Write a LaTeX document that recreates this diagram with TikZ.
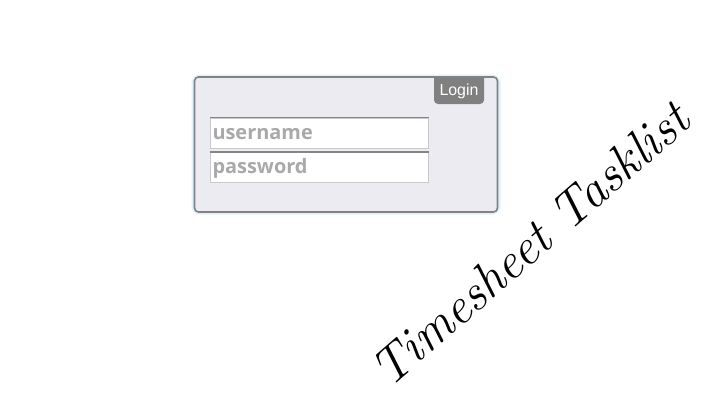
\documentclass[tikz,border=0pt]{standalone}
\usepackage{fontspec}
\newfontfamily\uifont{Open Sans}
\newfontfamily\btnfont{Liberation Sans}
\definecolor{boxfill}{HTML}{ECEBF1}
\definecolor{boxline}{HTML}{808284}
\definecolor{glow}{HTML}{DDF2FA}
\definecolor{btn}{HTML}{808080}
\definecolor{ph}{HTML}{A9A9A9}
\definecolor{fieldline}{HTML}{C9C9CC}
\definecolor{fieldtop}{HTML}{858585}
\tikzset{
  panel/.style={draw=boxline, line width=1.6bp, fill=boxfill, rounded corners=4bp, minimum width=303bp, minimum height=135bp, inner sep=0pt},
  field/.style={draw=fieldline, line width=1bp, fill=white, minimum width=218bp, minimum height=30bp, text width=213bp, inner sep=2.5bp, align=left, font=\uifont\bfseries\fontsize{20}{22}\selectfont, text=ph, text height=15bp, text depth=3bp},
  btntext/.style={font=\btnfont\fontsize{16}{18}\selectfont, text=white, inner sep=0pt},
  script/.style={font=\itshape\fontsize{51}{60}\selectfont, inner sep=0pt}
}
\begin{document}
\begin{tikzpicture}[x=1bp,y=-1bp]
\useasboundingbox[fill=white] (0,0) rectangle (716,419);
% glow
\draw[glow, line width=5bp, rounded corners=6bp] (194,77) rectangle (498,212);
\node[panel] (box) at (346,144.5) {};
% login button
\fill[btn] (434,77.8) [rounded corners=4bp]-- (434,104) -- (484,104) [sharp corners]-- (484,77.8) -- cycle;
\node[btntext] (login) at (459,91.5) {Login};
% fields
\node[field] (user) at (319,133) {username};
\node[field] (pass) at (319,167.5) {password};
\draw[fieldtop, line width=1.3bp] (user.north west) -- (user.north east);
\draw[fieldtop, line width=1.3bp] (pass.north west) -- (pass.north east);
% handwritten title
\node[script, rotate=41, anchor=base] (title) at (541,257) {Timesheet Tasklist};
\end{tikzpicture}
\end{document}
